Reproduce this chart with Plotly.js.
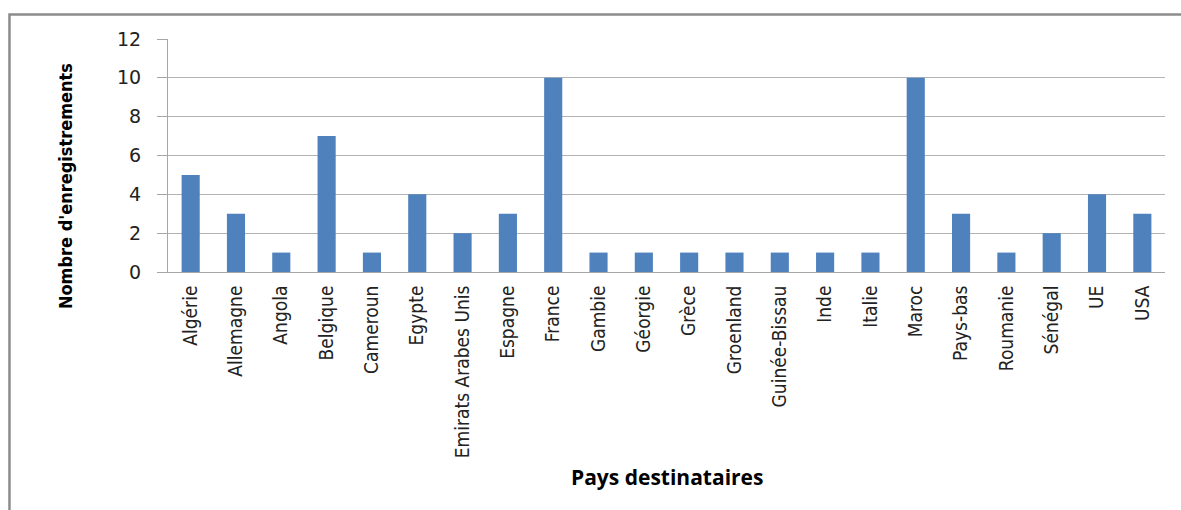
<!DOCTYPE html>
<html>
<head>
<meta charset="utf-8">
<script src="https://cdn.plot.ly/plotly-3.0.1.min.js"></script>
<style>html,body{margin:0;padding:0;background:#fff;}#chart{width:1181px;height:510px;}</style>
</head>
<body>
<div id="chart"></div>
<script>
var countries = ["Algérie","Allemagne","Angola","Belgique","Cameroun","Egypte","Emirats Arabes Unis","Espagne","France","Gambie","Géorgie","Grèce","Groenland","Guinée-Bissau","Inde","Italie","Maroc","Pays-bas","Roumanie","Sénégal","UE","USA"];
var counts = [5,3,1,7,1,4,2,3,10,1,1,1,1,1,1,1,10,3,1,2,4,3];
var yTicks = [0,2,4,6,8,10,12];
var xTitle = "Pays destinataires";
var yTitle = "Nombre d'enregistrements";

var trace = {
  type: "bar",
  x: countries,
  y: counts,
  marker: {color: "#4F81BD"},
  hoverinfo: "x+y"
};

var layout = {
  width: 1181,
  height: 510,
  margin: {l: 168, r: 16, t: 39, b: 238},
  paper_bgcolor: "#ffffff",
  plot_bgcolor: "#ffffff",
  bargap: 0.6,
  showlegend: false,
  font: {family: "DejaVu Sans Condensed, DejaVu Sans", color: "#000"},
  xaxis: {
    type: "category",
    tickangle: -90,
    showline: true,
    linecolor: "#a6a6a6",
    linewidth: 1,
    ticks: "",
    showgrid: false,
    tickfont: {family: "DejaVu Sans Condensed, DejaVu Sans", size: 19, color: "#222"},
    ticklabelstandoff: 5
  },
  yaxis: {
    range: [0, 12],
    tickvals: yTicks,
    showline: true,
    linecolor: "#a6a6a6",
    linewidth: 1,
    ticks: "outside",
    ticklen: 10,
    tickcolor: "#a6a6a6",
    showgrid: true,
    gridcolor: "#b3b3b3",
    gridwidth: 1,
    zeroline: false,
    tickfont: {family: "DejaVu Sans", size: 19, color: "#222"},
    ticklabelstandoff: 12
  },
  annotations: [
    {text: "<b>" + xTitle + "</b>", xref: "paper", yref: "paper", x: 0.5, y: -0.88, xanchor: "center", yanchor: "middle", showarrow: false,
     font: {family: "Open Sans", size: 21, color: "#000"}},
    {text: "<b>" + yTitle + "</b>", xref: "paper", yref: "paper", x: -0.103, y: 0.37, xanchor: "center", yanchor: "middle", textangle: -90, showarrow: false,
     font: {family: "DejaVu Sans Condensed, DejaVu Sans", size: 18, color: "#000"}}
  ],
  shapes: [
    {type: "rect", xref: "paper", yref: "paper", x0: -0.159, x1: 1.05, y0: -1.2, y1: 1.105,
     line: {color: "#8c8c8c", width: 2.5}, fillcolor: "rgba(0,0,0,0)"}
  ]
};

Plotly.newPlot("chart", [trace], layout, {displayModeBar: false});
</script>
</body>
</html>
